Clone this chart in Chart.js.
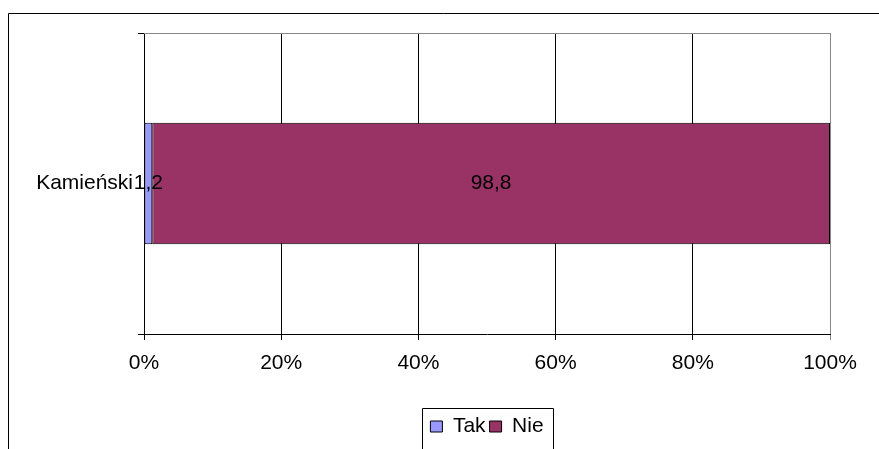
<!DOCTYPE html>
<html>
<head>
<meta charset="utf-8">
<script src="https://cdn.jsdelivr.net/npm/chart.js@4"></script>
<style>
  html, body { margin: 0; padding: 0; background: #fff; }
  #wrap { width: 879px; height: 449px; }
</style>
</head>
<body>
<div id="wrap"><canvas id="myChart" width="879" height="449"></canvas></div>
<script>
// data
const categories = ['Kamieński'];
const takValues = [1.2];
const nieValues = [98.8];
const seriesNames = ['Tak', 'Nie'];
const tickValues = [0, 20, 40, 60, 80, 100];

const FONT = "'Liberation Sans', Arial, sans-serif";

// value labels in the middle of each bar piece
const barLabels = {
   id: 'barLabels',
   afterDatasetsDraw(chart) {
      const ctx = chart.ctx;
      ctx.save();
      ctx.font = '21px ' + FONT;
      ctx.fillStyle = '#000';
      ctx.textAlign = 'center';
      ctx.textBaseline = 'middle';
      chart.data.datasets.forEach((ds, i) => {
         chart.getDatasetMeta(i).data.forEach((bar, j) => {
            const p = bar.getCenterPoint();
            ctx.fillText(String(ds.data[j]).replace('.', ','), p.x, p.y);
         });
      });
      ctx.restore();
   }
};

// legend sits centred under the plot area, not under the whole canvas
const legendUnderPlot = {
   id: 'legendUnderPlot',
   afterUpdate(chart) {
      const lg = chart.legend;
      const a = chart.chartArea;
      const shift = (a.left + a.right) / 2 - (lg.left + lg.right) / 2;
      lg.left += shift;
      lg.right += shift;
      lg.legendHitBoxes.forEach(b => { b.left += shift; });
   }
};

// gray top border, legend frame and the outer frame
const frames = {
   id: 'frames',
   beforeDatasetsDraw(chart) {
      const a = chart.chartArea;
      const ctx = chart.ctx;
      ctx.save();
      ctx.strokeStyle = '#888';
      ctx.lineWidth = 1;
      ctx.beginPath();
      ctx.moveTo(a.left, a.top + 0.5);
      ctx.lineTo(a.right, a.top + 0.5);
      ctx.stroke();
      ctx.restore();
   },
   afterDraw(chart) {
      const ctx = chart.ctx;
      ctx.save();
      ctx.strokeStyle = '#000';
      ctx.lineWidth = 1;
      ctx.beginPath();
      ctx.moveTo(8.5, chart.height);
      ctx.lineTo(8.5, 13.5);
      ctx.lineTo(chart.width, 13.5);
      ctx.stroke();

      const boxes = chart.legend.legendHitBoxes;
      if (boxes && boxes.length) {
         let l = Infinity, r = -Infinity, t = Infinity;
         boxes.forEach(b => {
            l = Math.min(l, b.left);
            r = Math.max(r, b.left + b.width);
            t = Math.min(t, b.top);
         });
         ctx.beginPath();
         ctx.moveTo(Math.round(l - 8) + 0.5, chart.height + 2);
         ctx.lineTo(Math.round(l - 8) + 0.5, Math.round(t - 8) + 0.5);
         ctx.lineTo(Math.round(r + 9) + 0.5, Math.round(t - 8) + 0.5);
         ctx.lineTo(Math.round(r + 9) + 0.5, chart.height + 2);
         ctx.stroke();
      }
      ctx.restore();
   }
};

Chart.defaults.font.family = FONT;
Chart.defaults.font.size = 21;
Chart.defaults.color = '#000';

const ctx = document.getElementById('myChart').getContext('2d');
const chart = new Chart(ctx, {
   type: 'bar',
   data: {
      labels: categories,
      datasets: [{
         label: seriesNames[0],
         data: takValues,
         backgroundColor: '#9999FF',
         borderColor: '#000',
         borderWidth: 1,
         borderSkipped: false,
         categoryPercentage: 1,
         barPercentage: 0.403
      }, {
         label: seriesNames[1],
         data: nieValues,
         backgroundColor: '#993366',
         borderColor: '#000',
         borderWidth: 1,
         borderSkipped: false,
         categoryPercentage: 1,
         barPercentage: 0.403
      }]
   },
   options: {
      indexAxis: 'y',
      responsive: false,
      animation: false,
      layout: { padding: { top: 33, right: 49, left: 0, bottom: 2 } },
      plugins: {
         tooltip: { enabled: false },
         legend: {
            position: 'bottom',
            labels: {
               boxWidth: 12,
               boxHeight: 11,
               padding: 4,
               font: { size: 21 }
            }
         }
      },
      scales: {
         x: {
            stacked: true,
            min: 0,
            max: 100,
            afterBuildTicks: scale => { scale.ticks = tickValues.map(v => ({ value: v })); },
            afterFit: scale => { scale.height = 78; },
            ticks: {
               padding: 11,
               callback: v => v + '%'
            },
            grid: {
               color: c => (c.index === tickValues.length - 1 ? '#888' : '#000'),
               lineWidth: 1,
               tickLength: 6
            },
            border: { display: true, color: '#000', width: 1 }
         },
         y: {
            stacked: true,
            afterFit: scale => { scale.width = 144; },
            ticks: { padding: 5 },
            grid: {
               offset: true,
               drawOnChartArea: false,
               color: '#000',
               tickLength: 6
            },
            border: { display: true, color: '#000', width: 1 }
         }
      }
   },
   plugins: [barLabels, legendUnderPlot, frames]
});
</script>
</body>
</html>
